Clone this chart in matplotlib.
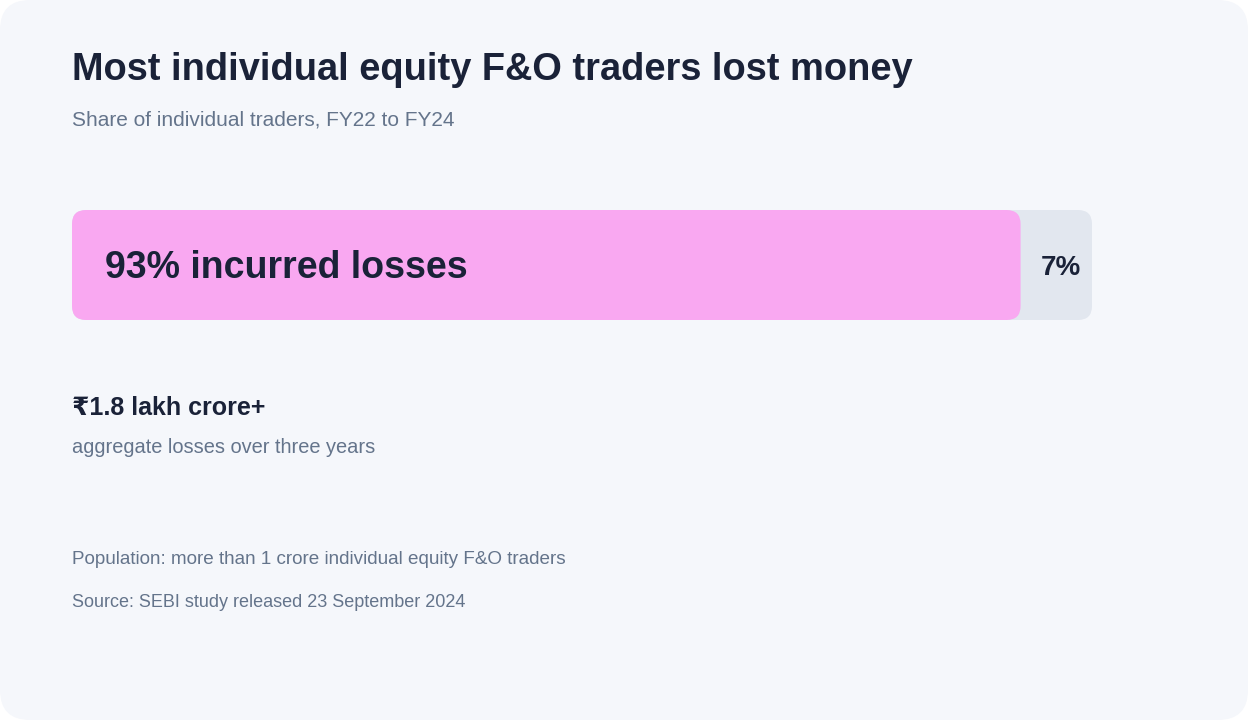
import matplotlib
matplotlib.use("Agg")
import matplotlib.pyplot as plt
from matplotlib.patches import FancyBboxPatch

plt.rcParams['font.family'] = ['Liberation Sans', 'DejaVu Sans', 'Noto Sans']

# Data
categories = ['incurred losses', 'did not']
shares = [93, 7]
title = "Most individual equity F&O traders lost money"
subtitle = "Share of individual traders, FY22 to FY24"
stat_value = "\u20b91.8 lakh crore+"
stat_label = "aggregate losses over three years"
notes = ["Population: more than 1 crore individual equity F&O traders",
         "Source: SEBI study released 23 September 2024"]

# Colours
bg = '#F5F7FB'
dark = '#1A2238'
muted = '#64748B'
pink = '#F9A8F1'
grey = '#E2E7EF'

W, H = 1248, 720
fig = plt.figure(figsize=(W / 100, H / 100), dpi=100, facecolor='white')

# background card (pixel coords)
ax_bg = fig.add_axes([0, 0, 1, 1])
ax_bg.set_xlim(0, W)
ax_bg.set_ylim(H, 0)
ax_bg.axis('off')
ax_bg.add_patch(FancyBboxPatch((0, 0), W, H, boxstyle="round,pad=0,rounding_size=30",
                               facecolor=bg, edgecolor='none'))

ax_bg.text(72, 80, title, fontsize=27.4, fontweight='bold', color=dark, va='baseline')
ax_bg.text(72, 126, subtitle, fontsize=15, color=muted, va='baseline')
ax_bg.text(72, 415, stat_value, fontsize=18, fontweight='bold', color=dark, va='baseline')
ax_bg.text(72, 453, stat_label, fontsize=14.4, color=muted, va='baseline')
ax_bg.text(72, 564, notes[0], fontsize=13.6, color=muted, va='baseline')
ax_bg.text(72, 607, notes[1], fontsize=13, color=muted, va='baseline')

# bar
bx0, bx1, by0, by1 = 72, 1092, 210, 320
ax = fig.add_axes([bx0 / W, 1 - by1 / H, (bx1 - bx0) / W, (by1 - by0) / H])
ax.set_xlim(0, sum(shares))
ax.set_ylim(0, 1)
ax.axis('off')

radius_px = 14
x_per_px = sum(shares) / (bx1 - bx0)
y_per_px = 1 / (by1 - by0)
aspect = y_per_px / x_per_px

def rounded_bar(x0, width, color):
    ax.add_patch(FancyBboxPatch((x0, 0), width, 1,
                                boxstyle=f"round,pad=0,rounding_size={radius_px * x_per_px}",
                                mutation_aspect=aspect, facecolor=color, edgecolor='none'))

rounded_bar(0, sum(shares), grey)
rounded_bar(0, shares[0], pink)

ax.annotate(f"{shares[0]}% {categories[0]}", xy=(0, 0.5), xytext=(24, -2),
            textcoords='offset points', fontsize=27, fontweight='bold', color=dark,
            va='center', ha='left')
ax.annotate(f"{shares[1]}%", xy=(shares[0] + shares[1] / 2, 0.5), xytext=(3, -2),
            textcoords='offset points', fontsize=20, fontweight='bold', color=dark,
            va='center', ha='center')

fig.savefig('out.png', dpi=100, facecolor='white')
